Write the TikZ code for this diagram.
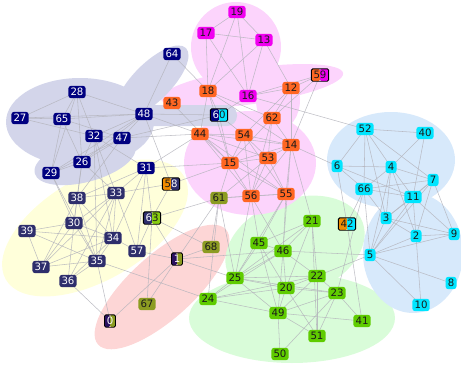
\documentclass[tikz,border=0pt]{standalone}
\usepackage{fontspec}
\setmainfont{DejaVu Sans}
\pgfdeclarelayer{blobs}
\pgfdeclarelayer{edges}
\pgfsetlayers{blobs,edges,main}
\definecolor{navyc}{HTML}{000080}
\definecolor{slate}{HTML}{2E2E6C}
\definecolor{orng}{HTML}{FF6622}
\definecolor{gold}{HTML}{F08C00}
\definecolor{magc}{HTML}{F000F0}
\definecolor{cyanc}{HTML}{00E5FF}
\definecolor{grnc}{HTML}{5FCC00}
\definecolor{olv}{HTML}{8C9C22}
\definecolor{lime}{HTML}{88CC11}
\definecolor{purp}{HTML}{2A1060}
\definecolor{dtext}{HTML}{1A1A1A}
\definecolor{lav}{HTML}{D3D5EA}
\definecolor{yel}{HTML}{FFFFDA}
\definecolor{pnk}{HTML}{FCD4FC}
\definecolor{sal}{HTML}{FDD6D6}
\definecolor{grb}{HTML}{D9FCD9}
\definecolor{cyb}{HTML}{D7E9FB}
\definecolor{edgec}{HTML}{B4B4BC}
\tikzset{
  base/.style={rounded corners=2.8pt, inner xsep=2.2pt, inner ysep=2.5pt,
    text height=7.4pt, text depth=0pt, minimum width=11pt,
    font=\fontsize{10.2}{10}\selectfont},
  nv/.style={base, fill=navyc, text=white},
  sl/.style={base, fill=slate, text=white},
  og/.style={base, fill=orng, text=dtext},
  mg/.style={base, fill=magc, text=dtext},
  cy/.style={base, fill=cyanc, text=dtext},
  gn/.style={base, fill=grnc, text=dtext},
  ol/.style={base, fill=olv, text=dtext},
  split/.style 2 args={base, rounded corners=1.5pt, draw=black, line width=0.9pt, text=dtext,
    path picture={
      \fill[#1] (path picture bounding box.south west) rectangle (path picture bounding box.north);
      \fill[#2] (path picture bounding box.south) rectangle (path picture bounding box.north east);}},
  lnk/.style={draw=edgec, line width=0.55pt, opacity=0.85}
}
\begin{document}
\begin{tikzpicture}[x=1pt,y=-1pt]
\useasboundingbox (0,0) rectangle (461,367);
% nodes
\node[nv] (n64) at (172,54) {64};
\node[nv] (n28) at (77,92) {28};
\node[nv] (n27) at (20,118) {27};
\node[nv] (n65) at (62,119) {65};
\node[nv] (n48) at (144,114) {48};
\node[nv] (n32) at (94,136) {32};
\node[nv] (n47) at (122,138) {47};
\node[nv] (n26) at (82,162) {26};
\node[nv] (n29) at (51,173) {29};
\node[nv] (n31) at (146,168) {31};
\node[sl] (n33) at (116,193) {33};
\node[sl] (n38) at (77,198) {38};
\node[sl] (n30) at (74,223) {30};
\node[sl] (n39) at (27,231) {39};
\node[sl] (n34) at (113,238) {34};
\node[sl] (n57) at (137,251) {57};
\node[sl] (n37) at (41,267) {37};
\node[sl] (n35) at (97,261) {35};
\node[sl] (n36) at (68,281) {36};
\node[mg] (n19) at (237,12) {19};
\node[mg] (n17) at (206,33) {17};
\node[mg] (n13) at (264,40) {13};
\node[mg] (n16) at (248,96) {16};
\node[og] (n43) at (172,103) {43};
\node[og] (n18) at (208,91) {18};
\node[og] (n12) at (291,88) {12};
\node[og] (n62) at (272,118) {62};
\node[og] (n44) at (200,134) {44};
\node[og] (n54) at (244,135) {54};
\node[og] (n14) at (291,145) {14};
\node[og] (n53) at (268,158) {53};
\node[og] (n15) at (230,163) {15};
\node[og] (n56) at (251,196) {56};
\node[og] (n55) at (286,194) {55};
\node[ol] (n61) at (219,198) {61};
\node[ol] (n68) at (211,247) {68};
\node[ol] (n67) at (147,304) {67};
\node[gn] (n21) at (312,221) {21};
\node[gn] (n45) at (259,243) {45};
\node[gn] (n46) at (283,251) {46};
\node[gn] (n25) at (235,278) {25};
\node[gn] (n22) at (317,276) {22};
\node[gn] (n20) at (286,288) {20};
\node[gn] (n23) at (337,293) {23};
\node[gn] (n24) at (208,299) {24};
\node[gn] (n49) at (278,313) {49};
\node[gn] (n41) at (362,321) {41};
\node[gn] (n51) at (317,336) {51};
\node[gn] (n50) at (280,354) {50};
\node[cy] (n52) at (365,129) {52};
\node[cy] (n40) at (425,133) {40};
\node[cy] (n6) at (337,166) {6};
\node[cy] (n4) at (391,167) {4};
\node[cy] (n7) at (433,180) {7};
\node[cy] (n66) at (364,189) {66};
\node[cy] (n11) at (413,197) {11};
\node[cy] (n3) at (386,218) {3};
\node[cy] (n2) at (416,236) {2};
\node[cy] (n9) at (454,234) {9};
\node[cy] (n5) at (370,255) {5};
\node[cy] (n8) at (451,283) {8};
\node[cy] (n10) at (421,305) {10};
\node[split={orng}{magc}] (n59) at (320,75) {59};
\node[split={navyc}{cyanc}] (n60) at (219,115) {{\color{white}6}0};
\node[split={gold}{slate}] (n58) at (171,184) {5{\color{white}8}};
\node[split={slate}{lime}] (n63) at (152,218) {{\color{white}6}3};
\node[split={purp}{olv}, text=white] (n1) at (177,259) {1};
\node[split={purp}{olv}, text=white] (n0) at (110,321) {0};
\node[split={gold}{cyanc}] (n42) at (347,224) {42};
% blobs
\begin{pgfonlayer}{blobs}
\fill[yel, rotate around={30:(95,228)}] (95,228) ellipse [x radius=103pt, y radius=52pt];
\fill[sal, rotate around={42:(162,287)}] (162,287) ellipse [x radius=86pt, y radius=32pt];
\fill[grb] (292,318) ellipse [x radius=103pt, y radius=45pt];
\fill[grb, rotate around={20:(295,247)}] (295,247) ellipse [x radius=72pt, y radius=48pt];
\fill[cyb] (391,160) ellipse [x radius=64pt, y radius=48pt];
\fill[cyb] (413,253) ellipse [x radius=50pt, y radius=60pt];
\fill[pnk] (236,47) circle [radius=45pt];
\fill[pnk, rotate around={8:(252,86)}] (252,86) ellipse [x radius=92pt, y radius=18pt];
\fill[pnk] (250,163) ellipse [x radius=66pt, y radius=52pt];
\fill[pnk] (278,100) ellipse [x radius=22pt, y radius=30pt];
\fill[lav] (80,122) ellipse [x radius=74pt, y radius=44pt];
\fill[lav, rotate around={15:(85,160)}] (85,160) ellipse [x radius=52pt, y radius=22pt];
\fill[lav, rotate around={45:(152,82)}] (152,82) ellipse [x radius=48pt, y radius=19pt];
\fill[lav, rounded corners=10pt] (140,105) rectangle (237,126);
\end{pgfonlayer}
% edges
\begin{pgfonlayer}{edges}
\foreach \a/\b in {19/17,19/13,19/18,19/16,17/13,17/18,17/16,13/18,13/16,13/12,
16/12,16/59,16/52,16/60,18/44,18/60,18/15,18/14,18/62,64/18,43/15,
12/59,12/62,12/14,12/54,59/62,59/14,62/14,62/15,62/56,62/53,
44/54,44/14,44/15,44/56,44/55,44/48,44/47,44/31,44/53,
54/14,54/15,54/53,54/56,54/55,54/60,
15/53,15/14,15/56,15/55,15/61,15/58,15/60,15/31,
53/14,53/56,53/55,53/61,14/56,14/55,14/6,14/46,14/21,
56/55,56/61,56/45,56/25,56/46,55/61,55/45,55/46,55/25,
61/63,61/1,61/68,61/24,61/25,60/48,60/47,
64/48,28/27,28/65,28/48,28/32,28/26,28/29,27/65,27/32,27/48,
65/48,65/29,65/26,65/47,48/47,48/32,48/26,48/29,48/58,
47/32,47/26,47/29,47/38,32/26,32/31,32/33,32/35,32/34,
26/29,26/38,26/30,26/33,29/35,29/30,31/33,31/38,31/63,31/57,31/34,
33/38,33/30,33/34,33/35,33/36,33/58,33/57,33/37,
38/30,38/35,38/34,38/37,30/39,30/34,30/35,30/36,30/37,
39/37,39/34,39/35,34/57,34/35,34/37,34/36,
35/37,35/36,35/24,35/0,36/0,57/63,57/1,58/63,
63/1,63/67,63/68,1/0,1/67,1/68,1/46,1/25,
21/46,21/45,21/22,21/20,21/51,21/25,45/46,45/25,45/49,45/20,
46/25,46/24,46/22,46/20,46/49,46/5,25/24,25/22,25/20,25/49,25/23,
24/20,24/49,24/22,22/20,22/23,22/49,22/51,22/5,
20/23,20/49,20/51,23/49,23/51,23/41,23/50,23/66,
49/41,49/51,49/50,42/41,42/66,6/42,
52/40,52/6,52/4,52/66,52/7,52/3,40/4,40/11,6/4,6/66,6/11,
4/66,4/7,4/11,4/3,4/2,4/5,7/66,7/11,7/3,7/5,7/9,7/2,
66/11,66/3,66/5,11/3,11/2,11/5,11/9,3/2,3/5,3/9,
2/9,2/5,2/10,5/8,5/10,5/9}
  \draw[lnk] (n\a.center) -- (n\b.center);
\end{pgfonlayer}
\end{tikzpicture}
\end{document}
